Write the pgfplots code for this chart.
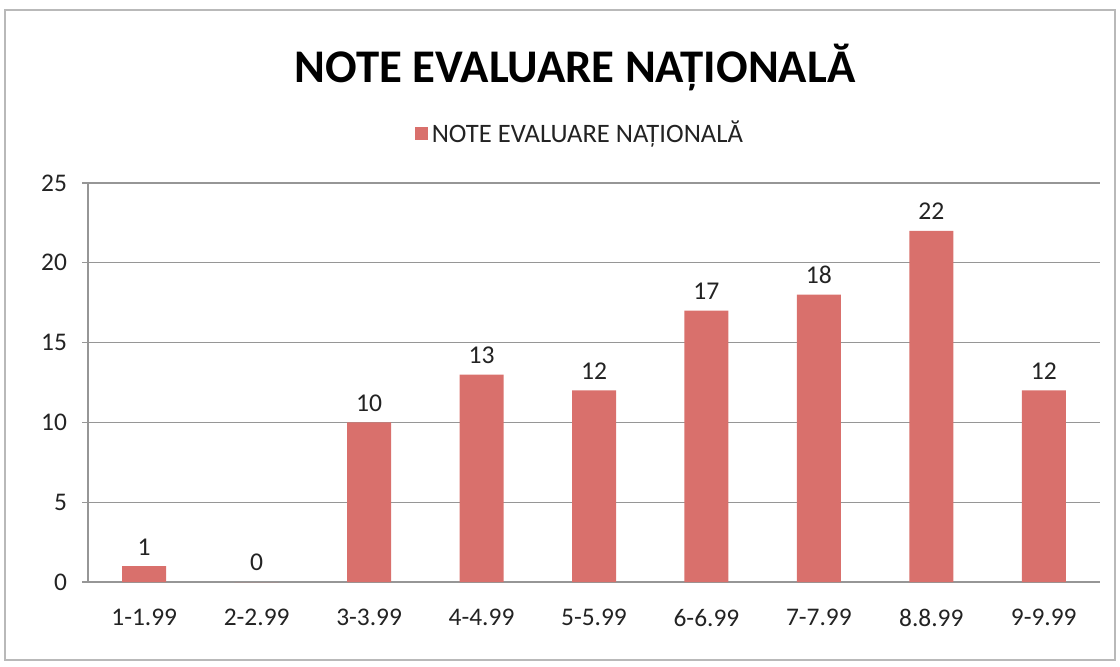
\documentclass[border=0pt]{standalone}
\usepackage{pgfplots}
\pgfplotsset{compat=1.18}
\usepackage{fontspec}
\setmainfont{Carlito}
\definecolor{barred}{RGB}{217,112,108}
\definecolor{txt}{RGB}{35,35,35}
\definecolor{gridc}{RGB}{150,150,150}
\begin{document}
\begin{tikzpicture}[x=1bp,y=1bp]
\useasboundingbox (0,0) rectangle (560,333);
\draw[gray!55, line width=0.8bp] (2.5,3) rectangle (557.5,328);
\node[font=\fontsize{23.4bp}{27bp}\selectfont\bfseries, text=black] at (287.5,299) {NOTE EVALUARE NAȚIONALĂ};
\begin{axis}[
  at={(44bp,42bp)}, anchor=south west,
  scale only axis, width=506bp, height=199.5bp,
  ymin=0, ymax=25, xmin=-0.5, xmax=8.5,
  ytick={0,5,10,15,20,25},
  xtick={0,...,8},
  xticklabels={1-1.99,2-2.99,3-3.99,4-4.99,5-5.99,6-6.99,7-7.99,8.8.99,9-9.99},
  major x tick style={draw=none},
  extra x ticks={-0.5,0.5,...,8.5},
  extra x tick labels={},
  extra x tick style={tick style={gridc, line width=0.6bp}, major tick length=4bp, tick align=outside, grid=none},
  axis x line*=bottom, axis y line*=left,
  axis line style={gridc, line width=0.7bp},
  ymajorgrids, grid style={gridc, line width=0.6bp},
  tick align=outside, major tick length=3bp,
  ytick style={gridc, line width=0.6bp},
  ticklabel style={font=\fontsize{12.7bp}{14bp}\selectfont, text=txt},
  xticklabel style={yshift=-7bp},
  yticklabel style={xshift=-4bp},
  /pgf/number format/assume math mode=true,
  ybar, bar width=22bp,
  nodes near coords,
  every node near coord/.append style={font=\fontsize{12.8bp}{14bp}\selectfont, text=txt, yshift=2bp},
  legend style={at={(0.487,1.125)}, anchor=center, draw=none, fill=none,
    font=\fontsize{13.3bp}{15bp}\selectfont, text=txt,
    /tikz/every even column/.append style={column sep=2bp}},
  legend image code/.code={\fill[barred] (0bp,-3.2bp) rectangle (6.5bp,3.2bp);},
]
\addplot[fill=barred, draw=none] coordinates {(0,1) (1,0) (2,10) (3,13) (4,12) (5,17) (6,18) (7,22) (8,12)};
\addlegendentry{NOTE EVALUARE NAȚIONALĂ}
\end{axis}
\end{tikzpicture}
\end{document}
